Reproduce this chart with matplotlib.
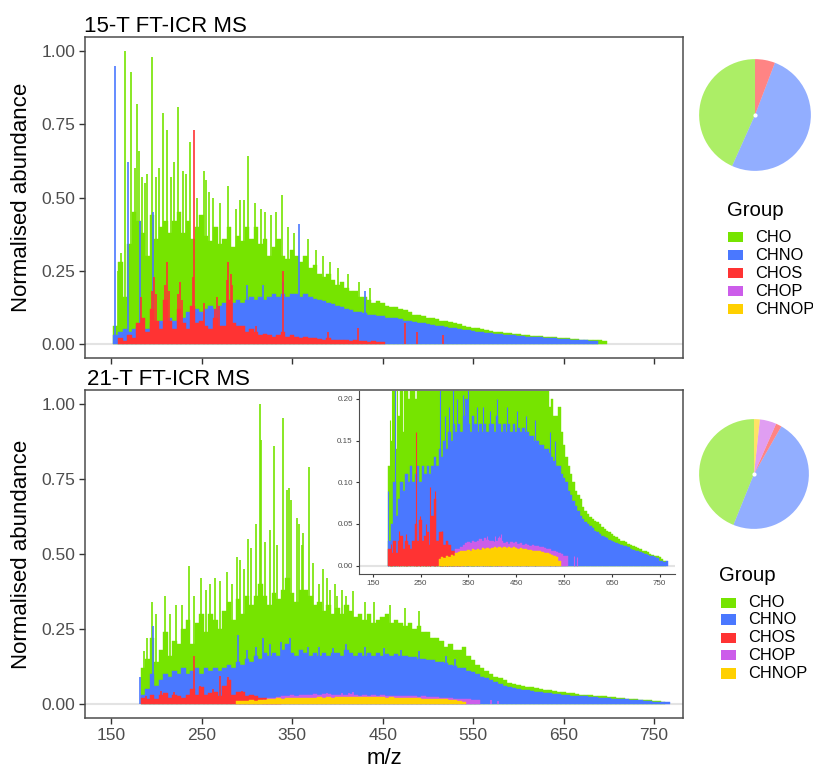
import numpy as np
import matplotlib
matplotlib.use("Agg")
import matplotlib.pyplot as plt
from matplotlib.patches import Rectangle

plt.rcParams['font.family'] = ['Liberation Sans', 'DejaVu Sans']

groups = ["CHO", "CHNO", "CHOS", "CHOP", "CHNOP"]
colors = ["#76E400", "#4A78FF", "#FF3333", "#CC5DEA", "#FFD000"]
step = 5  # m/z bin of the dense envelope

# ---------------- 15-T data ----------------
cho15_start = 155
cho15 = [0.06, 0.28, 0.16, 0.34, 0.45, 0.42, 0.38, 0.30, 0.44, 0.36,
         0.40, 0.42, 0.38, 0.42, 0.45, 0.38, 0.42, 0.36, 0.40, 0.44,
         0.37, 0.35, 0.40, 0.34, 0.36, 0.40, 0.33, 0.37, 0.35, 0.40,
         0.36, 0.40, 0.34, 0.36, 0.30, 0.33, 0.36, 0.30, 0.29, 0.32,
         0.30, 0.28, 0.30, 0.26, 0.27, 0.24, 0.23, 0.24, 0.22, 0.20,
         0.21, 0.19, 0.18, 0.18, 0.16, 0.16, 0.15, 0.14, 0.145, 0.14,
         0.13, 0.125, 0.125, 0.12, 0.115, 0.11, 0.10, 0.10, 0.095, 0.09,
         0.088, 0.085, 0.08, 0.078, 0.075, 0.072, 0.068, 0.062, 0.058, 0.055,
         0.055, 0.052, 0.048, 0.045, 0.042, 0.04, 0.038, 0.037, 0.035, 0.033,
         0.032, 0.03, 0.028, 0.027, 0.026, 0.025, 0.023, 0.022, 0.021, 0.02,
         0.019, 0.018, 0.017, 0.015, 0.015, 0.014, 0.013, 0.012, 0.01]
cho15_pk_mz = [158, 160.5, 165.5, 171.5, 176, 179, 181, 184, 187, 190,
               195, 199, 203, 207, 211.5, 216, 219, 224, 229, 233,
               237, 245, 253, 254.5, 258, 262, 270, 279.5, 288, 292,
               297, 301.5, 309, 315, 320, 327, 332, 338.5, 345, 352,
               367.5, 376, 384, 392, 401, 412, 424, 436]
cho15_pk_h = [0.25, 0.31, 1.00, 0.93, 0.60, 0.82, 0.66, 0.57, 0.55, 0.58,
              0.98, 0.57, 0.60, 0.79, 0.73, 0.57, 0.62, 0.81, 0.59, 0.58,
              0.69, 0.50, 0.59, 0.56, 0.52, 0.50, 0.48, 0.54, 0.46, 0.49,
              0.49, 0.64, 0.48, 0.46, 0.45, 0.44, 0.45, 0.51, 0.40, 0.38,
              0.36, 0.32, 0.30, 0.28, 0.26, 0.24, 0.21, 0.19]

chno15_start = 155
chno15 = [0.03, 0.04, 0.05, 0.04, 0.05, 0.06, 0.04, 0.05, 0.07, 0.06,
          0.08, 0.07, 0.09, 0.08, 0.10, 0.09, 0.11, 0.10, 0.12, 0.11,
          0.12, 0.13, 0.12, 0.13, 0.14, 0.13, 0.14, 0.15, 0.14, 0.15,
          0.16, 0.15, 0.16, 0.15, 0.16, 0.17, 0.16, 0.17, 0.16, 0.17,
          0.17, 0.16, 0.17, 0.16, 0.155, 0.15, 0.145, 0.14, 0.135, 0.13,
          0.125, 0.12, 0.115, 0.11, 0.11, 0.105, 0.10, 0.10, 0.095, 0.095,
          0.09, 0.09, 0.088, 0.085, 0.08, 0.078, 0.075, 0.072, 0.07, 0.068,
          0.065, 0.062, 0.06, 0.058, 0.055, 0.053, 0.05, 0.048, 0.046, 0.044,
          0.042, 0.04, 0.038, 0.036, 0.034, 0.033, 0.032, 0.031, 0.03, 0.028,
          0.027, 0.025, 0.024, 0.023, 0.022, 0.021, 0.02, 0.019, 0.018, 0.017,
          0.016, 0.015, 0.014, 0.013, 0.012, 0.011, 0.01]
chno15_pk_mz = [154, 168.5, 182, 196, 300, 318, 340, 357.5, 431]
chno15_pk_h = [0.95, 0.62, 0.42, 0.45, 0.20, 0.20, 0.21, 0.41, 0.18]

chos15_start = 160
chos15 = [0.02, 0.01, 0.03, 0.02, 0.07, 0.09, 0.04, 0.12, 0.08, 0.05,
          0.15, 0.08, 0.05, 0.12, 0.07, 0.05, 0.13, 0.07, 0.08, 0.06,
          0.05, 0.09, 0.06, 0.06, 0.15, 0.07, 0.06, 0.06, 0.04, 0.05,
          0.04, 0.03, 0.035, 0.03, 0.025, 0.03, 0.04, 0.025, 0.03, 0.025,
          0.02, 0.025, 0.02, 0.02, 0.018, 0.015, 0.02, 0.015, 0.015, 0.012,
          0.015, 0.01, 0.012, 0.01, 0.01, 0.008, 0.01, 0.008, 0.008]
chos15_pk_mz = [183, 195, 197, 199, 209, 211.5, 214, 224, 226, 228,
                240, 241.5, 252, 265, 267, 269, 278, 279.5, 282, 283,
                310, 340, 390, 423, 475, 488, 517]
chos15_pk_h = [0.16, 0.18, 0.23, 0.17, 0.20, 0.28, 0.18, 0.17, 0.21, 0.15,
               0.23, 0.73, 0.14, 0.12, 0.16, 0.13, 0.22, 0.28, 0.24, 0.20,
               0.06, 0.25, 0.04, 0.054, 0.07, 0.04, 0.03]

# ---------------- 21-T data ----------------
cho21_start = 185
cho21 = [0.12, 0.15, 0.22, 0.14, 0.18, 0.24, 0.16, 0.21, 0.20, 0.25,
         0.28, 0.20, 0.27, 0.30, 0.24, 0.30, 0.28, 0.25, 0.31, 0.34,
         0.28, 0.35, 0.30, 0.36, 0.33, 0.36, 0.40, 0.36, 0.33, 0.37,
         0.35, 0.38, 0.42, 0.37, 0.34, 0.38, 0.38, 0.36, 0.33, 0.34,
         0.31, 0.33, 0.30, 0.32, 0.30, 0.33, 0.31, 0.29, 0.30, 0.28,
         0.30, 0.27, 0.28, 0.29, 0.30, 0.27, 0.28, 0.27, 0.26, 0.27,
         0.25, 0.26, 0.24, 0.24, 0.22, 0.22, 0.21, 0.19, 0.20, 0.18,
         0.18, 0.19, 0.16, 0.145, 0.13, 0.12, 0.11, 0.10, 0.09, 0.085,
         0.08, 0.07, 0.066, 0.062, 0.058, 0.056, 0.054, 0.052, 0.05, 0.046,
         0.044, 0.042, 0.04, 0.038, 0.036, 0.034, 0.032, 0.03, 0.029, 0.028,
         0.026, 0.025, 0.024, 0.022, 0.021, 0.02, 0.018, 0.017, 0.016, 0.014,
         0.013, 0.012, 0.011, 0.01, 0.008, 0.006]
cho21_pk_mz = [186, 190, 195, 200, 209, 215, 222, 228, 235.5, 242,
               249, 255, 259.5, 265, 270, 278, 284, 289.5, 292, 297,
               301.5, 305, 310, 314, 315.5, 320, 325, 330, 333, 340,
               344, 346, 349, 355, 358, 360.5, 362, 368.5, 373, 380,
               384, 388, 392, 397, 400, 405, 410, 417, 430, 440,
               458, 475, 490]
cho21_pk_h = [0.175, 0.22, 0.34, 0.30, 0.36, 0.30, 0.33, 0.33, 0.46, 0.36,
              0.42, 0.38, 0.40, 0.42, 0.41, 0.44, 0.40, 0.49, 0.48, 0.45,
              0.55, 0.52, 0.60, 1.00, 0.88, 0.54, 0.58, 0.86, 0.53, 0.955,
              0.715, 0.72, 0.68, 0.62, 0.60, 0.53, 0.57, 0.79, 0.47, 0.40,
              0.45, 0.42, 0.38, 0.40, 0.36, 0.38, 0.36, 0.375, 0.34, 0.34,
              0.33, 0.32, 0.31]

chno21_start = 185
chno21 = [0.03, 0.05, 0.10, 0.06, 0.08, 0.10, 0.09, 0.11, 0.10, 0.12,
          0.10, 0.11, 0.12, 0.10, 0.12, 0.11, 0.12, 0.11, 0.12, 0.13,
          0.12, 0.14, 0.13, 0.15, 0.14, 0.16, 0.15, 0.17, 0.16, 0.17,
          0.16, 0.18, 0.20, 0.17, 0.16, 0.18, 0.17, 0.16, 0.17, 0.16,
          0.17, 0.16, 0.17, 0.17, 0.16, 0.18, 0.17, 0.16, 0.17, 0.16,
          0.17, 0.16, 0.17, 0.16, 0.165, 0.16, 0.165, 0.16, 0.16, 0.155,
          0.155, 0.15, 0.15, 0.145, 0.145, 0.14, 0.14, 0.135, 0.13, 0.125,
          0.12, 0.12, 0.11, 0.105, 0.10, 0.09, 0.085, 0.078, 0.072, 0.066,
          0.06, 0.056, 0.052, 0.05, 0.047, 0.045, 0.042, 0.04, 0.038, 0.036,
          0.034, 0.033, 0.031, 0.03, 0.028, 0.027, 0.026, 0.025, 0.024, 0.023,
          0.022, 0.02, 0.019, 0.018, 0.017, 0.016, 0.015, 0.014, 0.013, 0.012,
          0.011, 0.01, 0.009, 0.006, 0.005, 0.004, 0.006]
chno21_pk_mz = [182, 196, 290.5, 300, 310, 318, 326, 338, 346, 348,
                367, 380, 395, 409, 430, 452, 470, 490, 520, 530]
chno21_pk_h = [0.09, 0.26, 0.23, 0.18, 0.19, 0.22, 0.20, 0.205, 0.20, 0.22,
               0.19, 0.19, 0.185, 0.20, 0.19, 0.185, 0.18, 0.175, 0.16, 0.15]

chos21_start = 185
chos21 = [0.02, 0.015, 0.03, 0.015, 0.03, 0.035, 0.02, 0.03, 0.025, 0.02,
          0.03, 0.05, 0.03, 0.055, 0.03, 0.035, 0.04, 0.025, 0.06, 0.08,
          0.03, 0.04, 0.04, 0.025, 0.03, 0.025, 0.018, 0.018, 0.012, 0.01,
          0.008]
chos21_pk_mz = [188, 205, 219, 241, 248, 262, 270, 279.5, 294, 305]
chos21_pk_h = [0.026, 0.042, 0.038, 0.16, 0.06, 0.05, 0.094, 0.09, 0.042, 0.03]

chop21_start = 320
chop21 = [0.012, 0.02, 0.02, 0.022, 0.025, 0.027, 0.028, 0.027, 0.03, 0.028,
          0.03, 0.032, 0.03, 0.033, 0.031, 0.03, 0.029, 0.028, 0.03, 0.033,
          0.029, 0.027, 0.028, 0.026, 0.028, 0.027, 0.028, 0.026, 0.027, 0.025,
          0.026, 0.025, 0.024, 0.025, 0.023, 0.024, 0.022, 0.022, 0.021, 0.02,
          0.02, 0.018, 0.017, 0.016, 0.015, 0.014, 0.012, 0.012]
chop21_pk_mz = [388, 405, 413, 417, 570, 577]
chop21_pk_h = [0.035, 0.036, 0.036, 0.038, 0.012, 0.01]

chnop21_start = 290
chnop21 = [0.008, 0.01, 0.009, 0.012, 0.01, 0.013, 0.012, 0.015, 0.016, 0.018,
           0.017, 0.018, 0.019, 0.018, 0.02, 0.019, 0.02, 0.019, 0.021, 0.02,
           0.021, 0.02, 0.021, 0.022, 0.021, 0.022, 0.021, 0.022, 0.021, 0.022,
           0.021, 0.022, 0.021, 0.02, 0.021, 0.02, 0.02, 0.019, 0.019, 0.018,
           0.018, 0.017, 0.017, 0.016, 0.015, 0.015, 0.014, 0.013, 0.012, 0.01,
           0.006]
chnop21_pk_mz = []
chnop21_pk_h = []

# share of assigned formulas (pie charts)
share15 = [43.3, 50.9, 5.8, 0.0, 0.0]
share21 = [43.9, 47.8, 1.7, 4.9, 1.7]

spec15 = [(cho15_start, cho15, cho15_pk_mz, cho15_pk_h),
          (chno15_start, chno15, chno15_pk_mz, chno15_pk_h),
          (chos15_start, chos15, chos15_pk_mz, chos15_pk_h)]
spec21 = [(cho21_start, cho21, cho21_pk_mz, cho21_pk_h),
          (chno21_start, chno21, chno21_pk_mz, chno21_pk_h),
          (chos21_start, chos21, chos21_pk_mz, chos21_pk_h),
          (chop21_start, chop21, chop21_pk_mz, chop21_pk_h),
          (chnop21_start, chnop21, chnop21_pk_mz, chnop21_pk_h)]

W, H = 813, 768
fig = plt.figure(figsize=(W / 100, H / 100), dpi=100)


def box(l, t, r, b):
    return [l / W, 1 - b / H, (r - l) / W, (b - t) / H]


def draw_spec(ax, spec, lw=1.2):
    ax.axhline(0, color="#e3e3e3", lw=1.5, zorder=0)
    # each group is painted over the previous one, bars and peaks alike
    for i, ((start, vals, pk_mz, pk_h), col) in enumerate(zip(spec, colors)):
        mz = start + step * np.arange(len(vals))
        ax.bar(mz, vals, width=step, color=col, edgecolor=col, linewidth=0.3,
               zorder=1 + 2 * i)
        if len(pk_mz):
            ax.vlines(pk_mz, 0, pk_h, color=col, lw=lw, zorder=2 + 2 * i)


def style_main(ax, show_xlabels):
    ax.set_xlim(121, 782)
    ax.set_ylim(-0.048, 1.048)
    ax.set_xticks(np.arange(150, 751, 100))
    ax.set_yticks([0, 0.25, 0.5, 0.75, 1.0])
    ax.set_yticklabels(["0.00", "0.25", "0.50", "0.75", "1.00"])
    if not show_xlabels:
        ax.set_xticklabels([])
    ax.tick_params(direction="out", length=4, width=1, color="#333333",
                   labelcolor="#4d4d4d", labelsize=12.5, pad=3)
    for s in ax.spines.values():
        s.set_color("#4d4d4d")
        s.set_linewidth(1.1)
        s.set_zorder(20)


ax1 = fig.add_axes(box(85, 37, 683, 358))
draw_spec(ax1, spec15)
style_main(ax1, False)

ax2 = fig.add_axes(box(85, 390, 683, 718))
draw_spec(ax2, spec21)
style_main(ax2, True)

# inset: zoom of the 21-T spectrum
axi = fig.add_axes(box(359, 390.6, 675, 574))
axi.set_facecolor("white")
draw_spec(axi, spec21, lw=0.8)
axi.set_xlim(121, 782)
axi.set_ylim(-0.01, 0.21)
axi.set_xticks(np.arange(150, 751, 100))
axi.set_yticks([0, 0.05, 0.10, 0.15, 0.20])
axi.set_yticklabels(["0.00", "0.05", "0.10", "0.15", "0.20"])
axi.tick_params(direction="out", length=2.5, width=0.8, color="#333333",
                labelcolor="#4d4d4d", labelsize=5.8, pad=2)
axi.spines["top"].set_visible(False)
axi.spines["right"].set_visible(False)
for s in ("left", "bottom"):
    axi.spines[s].set_color("#4d4d4d")
    axi.spines[s].set_linewidth(0.8)
    axi.spines[s].set_zorder(20)

# titles and axis labels
fig.text(84 / W, 1 - 32 / H, "15-T FT-ICR MS", fontsize=16, ha="left", va="baseline")
fig.text(87 / W, 1 - 385 / H, "21-T FT-ICR MS", fontsize=16, ha="left", va="baseline")
fig.text(22 / W, 1 - 197.5 / H, "Normalised abundance", fontsize=16,
         rotation=90, ha="center", va="center")
fig.text(22 / W, 1 - 554 / H, "Normalised abundance", fontsize=16,
         rotation=90, ha="center", va="center")
fig.text(384 / W, 1 - 758 / H, "m/z", fontsize=16, ha="center", va="center")

# pies
for (cx, cy, r), share in [((755, 115, 57), share15), ((754, 474, 56), share21)]:
    axp = fig.add_axes(box(cx - r, cy - r, cx + r, cy + r))
    axp.pie(share, colors=colors, startangle=90, counterclock=True,
            wedgeprops=dict(linewidth=0, alpha=0.6))
    axp.plot(0, 0, "o", color="white", ms=2)
    axp.set_xlim(-1.02, 1.02)
    axp.set_ylim(-1.02, 1.02)
    axp.set_aspect("equal")
    axp.axis("off")

# legends
for tx, ty, kx, lx, rows in [(727, 216, 728, 755, [237, 255, 273, 291, 309]),
                             (719, 581, 721, 748, [602.7, 619.3, 637.7, 655, 673.3])]:
    fig.text(tx / W, 1 - ty / H, "Group", fontsize=14.7, ha="left", va="baseline")
    for name, col, ry in zip(groups, colors, rows):
        fig.patches.append(Rectangle((kx / W, 1 - (ry + 5.2) / H), 14.5 / W, 10.4 / H,
                                     transform=fig.transFigure, facecolor=col,
                                     edgecolor="none"))
        fig.text(lx / W, 1 - ry / H, name, fontsize=11.8, ha="left", va="center")

fig.savefig("out.png", dpi=100)
